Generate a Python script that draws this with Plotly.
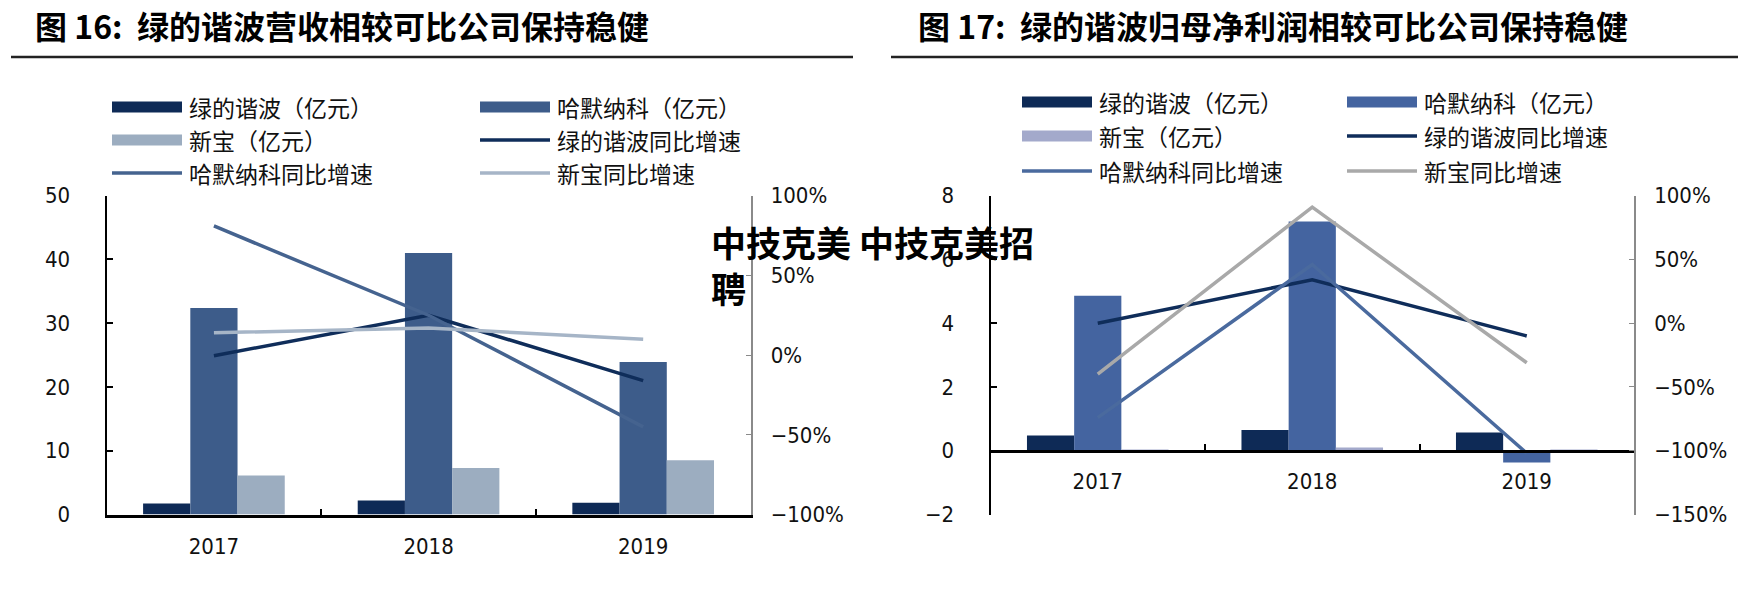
import plotly.graph_objects as go

W, H = 1746, 590
OFF = 8  # page margin around the plot div

years = ["2017", "2018", "2019"]

# 图16：营收（亿元）及同比增速
rev_lvd = [1.73, 2.19, 1.84]
rev_hd = [32.4, 41.0, 23.9]
rev_sp = [6.1, 7.3, 8.5]
rev_lvd_yoy = [-0.004, 0.25, -0.16]
rev_hd_yoy = [0.81, 0.25, -0.45]
rev_sp_yoy = [0.14, 0.17, 0.10]

# 图17：归母净利润（亿元）及同比增速
np_lvd = [0.48, 0.65, 0.57]
np_hd = [4.86, 7.19, -0.37]
np_sp = [0.04, 0.10, 0.04]
np_lvd_yoy = [0.0, 0.34, -0.10]
np_hd_yoy = [-0.74, 0.46, -1.02]
np_sp_yoy = [-0.40, 0.91, -0.31]

bar_names = ["绿的谐波（亿元）", "哈默纳科（亿元）", "新宝（亿元）"]
line_names = ["绿的谐波同比增速", "哈默纳科同比增速", "新宝同比增速"]

titles = ["图 16:  绿的谐波营收相较可比公司保持稳健",
          "图 17:  绿的谐波归母净利润相较可比公司保持稳健"]
watermark = "中技克美 中技克美招<br>聘"

# colours
navy = "#0e2a56"
bar_cols_l = [navy, "#3d5c8a", "#9cadc0"]
line_cols_l = ["#0f2d5a", "#45638f", "#a6b5c7"]
bar_cols_r = [navy, "#4464a0", "#a3a9cb"]
line_cols_r = ["#0f2d5a", "#4a6a9e", "#a9a9a9"]

CJK = "Noto Sans CJK SC"
NUM = "Liberation Sans Narrow, Noto Sans Condensed, DejaVu Sans Condensed, Liberation Sans, Arial"


def fx(p):
    return (p - OFF) / W


def fy(p):
    return 1 - (p - OFF) / H


fig = go.Figure()

# left chart
for name, vals, col in zip(bar_names, [rev_lvd, rev_hd, rev_sp], bar_cols_l):
    fig.add_trace(go.Bar(x=years, y=vals, name=name, marker_color=col,
                         marker_line_width=0, xaxis="x", yaxis="y"))
for name, vals, col in zip(line_names, [rev_lvd_yoy, rev_hd_yoy, rev_sp_yoy], line_cols_l):
    fig.add_trace(go.Scatter(x=years, y=vals, name=name, mode="lines",
                             line=dict(color=col, width=3.5), xaxis="x", yaxis="y2"))

# right chart
for name, vals, col in zip(bar_names, [np_lvd, np_hd, np_sp], bar_cols_r):
    fig.add_trace(go.Bar(x=years, y=vals, name=name, marker_color=col,
                         marker_line_width=0, xaxis="x2", yaxis="y3"))
for name, vals, col in zip(line_names, [np_lvd_yoy, np_hd_yoy, np_sp_yoy], line_cols_r):
    fig.add_trace(go.Scatter(x=years, y=vals, name=name, mode="lines",
                             line=dict(color=col, width=3.5), xaxis="x2", yaxis="y4"))

ydom = [fy(514.5), fy(195.7)]
r3 = [-2, 8]
zero_pos = ydom[0] + (0 - r3[0]) / (r3[1] - r3[0]) * (ydom[1] - ydom[0])

tick_font = dict(family=NUM, size=22, color="#111")
xcommon = dict(type="category", showgrid=False, zeroline=False, showline=True,
               linecolor="black", linewidth=3, ticks="inside", tickson="boundaries",
               ticklen=6, tickwidth=2, tickcolor="black", tickfont=tick_font,
               ticklabelstandoff=10)
yleft = dict(showgrid=False, zeroline=False, showline=True, linecolor="black",
             linewidth=2, ticks="inside", ticklen=6, tickwidth=1.5, tickcolor="black",
             tickfont=tick_font, ticklabelstandoff=30)
yright = dict(showgrid=False, zeroline=False, showline=True, linecolor="#8a8a8a",
              linewidth=1.5, ticks="inside", ticklen=5, tickwidth=1, tickcolor="#8a8a8a",
              tickfont=tick_font, ticklabelstandoff=14, side="right", tickformat=".0%")

fig.update_layout(
    width=W, height=H,
    margin=dict(l=0, r=0, t=0, b=0, autoexpand=False),
    paper_bgcolor="white", plot_bgcolor="white",
    showlegend=False,
    barmode="group", bargap=0.34, bargroupgap=0,
    xaxis=dict(domain=[fx(106.6), fx(750.5)], anchor="y", **xcommon),
    yaxis=dict(domain=ydom, range=[0, 50], dtick=10, anchor="x", **yleft),
    yaxis2=dict(range=[-1, 1], dtick=0.5, overlaying="y", anchor="x", **yright),
    xaxis2=dict(domain=[fx(990.5), fx(1634)], anchor="free", position=zero_pos, **xcommon),
    yaxis3=dict(domain=ydom, range=r3, dtick=2, anchor="x2", **yleft),
    yaxis4=dict(range=[-1.5, 1], dtick=0.5, overlaying="y3", anchor="x2", **yright),
)

# titles and rules
for t, x0, rx0, rx1 in zip(titles, [33, 916], [11, 891], [853, 1739]):
    fig.add_annotation(x=fx(x0), y=fy(25), xref="paper", yref="paper", text=f"<b>{t}</b>",
                       showarrow=False, xanchor="left", yanchor="middle",
                       font=dict(family=CJK, size=32, color="black"))
    fig.add_shape(type="line", xref="paper", yref="paper", x0=fx(rx0), x1=fx(rx1),
                  y0=fy(57), y1=fy(57), line=dict(color="#222", width=2.5))


# legends
def draw_legend(colx, rowy, bcols, lcols):
    items = [(n, c, "bar") for n, c in zip(bar_names, bcols)] + \
            [(n, c, "line") for n, c in zip(line_names, lcols)]
    for i, (name, col, kind) in enumerate(items):
        sx = colx[i % 2]
        sy = rowy[i // 2]
        if kind == "bar":
            fig.add_shape(type="rect", xref="paper", yref="paper", x0=fx(sx), x1=fx(sx + 70),
                          y0=fy(sy + 5.5), y1=fy(sy - 5.5), fillcolor=col, line_width=0)
        else:
            fig.add_shape(type="line", xref="paper", yref="paper", x0=fx(sx), x1=fx(sx + 70),
                          y0=fy(sy), y1=fy(sy), line=dict(color=col, width=3.5))
        fig.add_annotation(x=fx(sx + 75), y=fy(sy), xref="paper", yref="paper", text=name,
                           showarrow=False, xanchor="left", yanchor="middle",
                           font=dict(family=CJK, size=23, color="#111"))


draw_legend([112, 480], [107, 140, 173], bar_cols_l, line_cols_l)
draw_legend([1022, 1347], [102, 136, 171], bar_cols_r, line_cols_r)

# watermark text
fig.add_annotation(x=fx(709), y=fy(214), xref="paper", yref="paper", text=f"<b>{watermark}</b>",
                   showarrow=False, xanchor="left", yanchor="top", align="left",
                   font=dict(family=CJK, size=35, color="black"))

fig.write_html("out.html")
